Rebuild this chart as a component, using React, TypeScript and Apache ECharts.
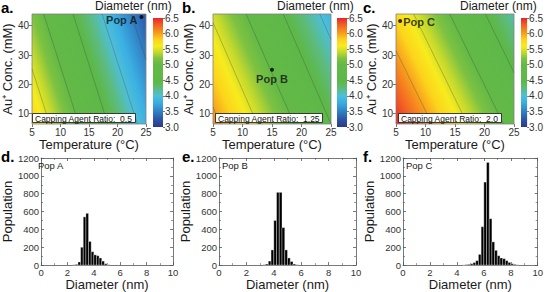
import React, { useEffect, useRef } from 'react';
import * as echarts from 'echarts';

const FONT = 'Liberation Sans, Arial, Helvetica, sans-serif';

// ---------- data ----------
const temperatureRange = [5, 25];
const concentrationRange = [6.5, 44];
const temperatureInterval = 5;
const concentrationTicks = [10, 20, 30, 40];
const diameterScale = [3.0, 6.5];
const diameterInterval = 0.5;

const cappingRatios = ['0.5', '1.25', '2.0'];
const panelLetters = ['a.', 'b.', 'c.', 'd.', 'e.', 'f.'];
const popNames = ['Pop A', 'Pop B', 'Pop C'];

// diameter (nm) read at corners: [5 °C & 44 mM, 25 °C & 44 mM, 5 °C & 6.5 mM]
const cornerDiamA = [5.2, 3.25, 5.8];
const cornerDiamB = [5.45, 3.85, 6.1];
const cornerDiamC = [5.75, 4.1, 6.5];

// contour lines [[T, conc], [T, conc]]
const contoursA = [
  [[5, 25.3], [8.1, 6.5]],
  [[7.05, 44], [13.2, 6.5]],
  [[12.2, 44], [18.3, 6.5]],
  [[17.3, 44], [23.5, 6.5]],
  [[22.4, 44], [25, 28.4]],
];
const contoursB = [
  [[5, 12.3], [6.25, 6.5]],
  [[5, 41.1], [12.5, 6.5]],
  [[10.6, 44], [18.75, 6.5]],
  [[16.9, 44], [25, 6.5]],
  [[23.1, 44], [25, 35.3]],
];
const contoursC = [
  [[5, 31.5], [11.1, 6.5]],
  [[8.0, 44], [17.1, 6.5]],
  [[14.1, 44], [23.2, 6.5]],
  [[20.15, 44], [25, 24]],
];

const popPointA = [24.2, 43];
const popPointB = [15, 25];
const popPointC = [5.7, 41.6];

const colorScale: [number, string][] = [
  [3.0, '#2b3990'],
  [3.25, '#2e56a5'],
  [3.5, '#3180c4'],
  [3.8, '#3bb0e3'],
  [4.0, '#4dbfd8'],
  [4.25, '#5dbb7a'],
  [4.45, '#5db849'],
  [5.0, '#63b946'],
  [5.2, '#7dc242'],
  [5.4, '#c3d92d'],
  [5.6, '#f7eb1e'],
  [5.8, '#fcd41c'],
  [6.05, '#f7941d'],
  [6.3, '#f15a24'],
  [6.5, '#e8232a'],
];

const histBinWidth = 0.2;
const histRangeX = [0, 10];
const histRangeY = [0, 1200];
const histCentersA = [2.5, 2.7, 2.9, 3.1, 3.3, 3.5, 3.7, 3.9, 4.1, 4.3, 4.5, 4.7, 4.9, 5.1];
const histCountsA = [3, 8, 35, 200, 540, 580, 265, 150, 115, 105, 80, 45, 15, 4];
const histCentersB = [3.3, 3.5, 3.7, 3.9, 4.1, 4.3, 4.5, 4.7, 4.9, 5.1, 5.3, 5.5, 5.7];
const histCountsB = [4, 12, 45, 170, 500, 815, 815, 420, 170, 80, 40, 12, 4];
const histCentersC = [4.5, 4.7, 4.9, 5.1, 5.3, 5.5, 5.7, 5.9, 6.1, 6.3, 6.5, 6.7, 6.9, 7.1, 7.3, 7.5, 7.7, 7.9, 8.1, 8.3, 8.5];
const histCountsC = [2, 5, 8, 15, 28, 50, 120, 430, 930, 1150, 520, 260, 165, 105, 80, 72, 50, 30, 15, 8, 3];

// ---------- layout ----------
const heatGrids = [
  { left: 29, top: 14, width: 117, height: 110 },
  { left: 213, top: 14, width: 118, height: 110 },
  { left: 396, top: 14, width: 118, height: 110 },
];
const cbarGrids = [
  { left: 153, top: 18, width: 10, height: 109 },
  { left: 337, top: 18, width: 10, height: 109 },
  { left: 521, top: 18, width: 10, height: 109 },
];
const histGrids = [
  { left: 35, top: 158, width: 138, height: 110 },
  { left: 219, top: 158, width: 137, height: 110 },
  { left: 403, top: 158, width: 136, height: 110 },
];
const letterPos = [[1, 0], [182, 0], [363, 0], [1, 149], [182, 149], [363, 149]];
const diamTitlePos = [[95, 0], [277, 0], [460, 0]];
const cappingPos = [[32, 113], [215, 113], [398, 113]];
const histPopPos = [[38, 160], [222, 160], [406, 160]];

const gradientStops = colorScale.map(([v, c]) => ({
  offset: (v - diameterScale[0]) / (diameterScale[1] - diameterScale[0]),
  color: c,
}));

const heatRender = (_params: any, api: any) => {
  const tl = api.coord([api.value(0), api.value(3)]);
  const br = api.coord([api.value(1), api.value(2)]);
  const dTL = api.value(4);
  const dTR = api.value(5);
  const dBL = api.value(6);
  const w = br[0] - tl[0];
  const h = br[1] - tl[1];
  const gx = (dTR - dTL) / w;
  const gy = (dBL - dTL) / h;
  const g2 = gx * gx + gy * gy;
  const lo = diameterScale[0];
  const hi = diameterScale[1];
  const x1 = tl[0] + (gx * (lo - dTL)) / g2;
  const y1 = tl[1] + (gy * (lo - dTL)) / g2;
  const x2 = tl[0] + (gx * (hi - dTL)) / g2;
  const y2 = tl[1] + (gy * (hi - dTL)) / g2;
  return {
    type: 'rect',
    shape: { x: tl[0], y: tl[1], width: w, height: h },
    style: {
      fill: new echarts.graphic.LinearGradient(x1, y1, x2, y2, gradientStops, true),
      stroke: '#808080',
      lineWidth: 0.8,
    },
  };
};

const cbarRender = (_params: any, api: any) => {
  const tl = api.coord([0, api.value(1)]);
  const br = api.coord([1, api.value(0)]);
  return {
    type: 'rect',
    shape: { x: tl[0], y: tl[1], width: br[0] - tl[0], height: br[1] - tl[1] },
    style: { fill: new echarts.graphic.LinearGradient(0, 1, 0, 0, gradientStops) },
  };
};

const histRender = (_params: any, api: any) => {
  const c = api.value(0);
  const n = api.value(1);
  const p0 = api.coord([c - histBinWidth / 2, n]);
  const p1 = api.coord([c + histBinWidth / 2, 0]);
  return {
    type: 'rect',
    shape: { x: p0[0], y: p0[1], width: p1[0] - p0[0], height: p1[1] - p0[1] },
    style: { fill: '#000', stroke: '#ffffff', lineWidth: 0.35 },
  };
};

function buildOption() {
  const corners = [cornerDiamA, cornerDiamB, cornerDiamC];
  const contours = [contoursA, contoursB, contoursC];
  const pops = [popPointA, popPointB, popPointC];
  const hists = [
    [histCentersA, histCountsA],
    [histCentersB, histCountsB],
    [histCentersC, histCountsC],
  ];
  const textColor = '#1a1a1a';
  const axisGray = '#555';

  const grid: any[] = [...heatGrids, ...cbarGrids, ...histGrids];
  const xAxis: any[] = [];
  const yAxis: any[] = [];
  const series: any[] = [];

  for (let i = 0; i < 3; i++) {
    xAxis.push({
      gridIndex: i, type: 'value', min: temperatureRange[0], max: temperatureRange[1], interval: temperatureInterval,
      axisLine: { show: false, onZero: false },
      axisTick: { show: true, length: 3, lineStyle: { color: axisGray, width: 0.8 } },
      axisLabel: { fontSize: 10, color: '#333', margin: 3, fontFamily: FONT },
      splitLine: { show: false },
      name: 'Temperature (°C)', nameLocation: 'middle', nameGap: 11,
      nameTextStyle: { fontSize: 13, color: textColor, fontFamily: FONT },
    });
    yAxis.push({
      gridIndex: i, type: 'value', min: concentrationRange[0], max: concentrationRange[1],
      axisLine: { show: false, onZero: false },
      axisTick: { show: true, length: 3, customValues: concentrationTicks, lineStyle: { color: axisGray, width: 0.8 } },
      axisLabel: { fontSize: 10, color: '#333', margin: 3, customValues: concentrationTicks, fontFamily: FONT },
      splitLine: { show: false },
      name: 'Au⁺ Conc. (mM)', nameLocation: 'middle', nameGap: 13,
      nameTextStyle: { fontSize: 13, color: textColor, fontFamily: FONT },
    });
  }
  for (let i = 0; i < 3; i++) {
    xAxis.push({ gridIndex: 3 + i, type: 'value', min: 0, max: 1, show: false });
    yAxis.push({
      gridIndex: 3 + i, type: 'value', position: 'right', min: diameterScale[0], max: diameterScale[1], interval: diameterInterval,
      axisLine: { show: false, onZero: false },
      axisTick: { show: true, length: 2, lineStyle: { color: axisGray, width: 0.8 } },
      axisLabel: { fontSize: 10, lineHeight: 10, color: '#333', margin: 2, formatter: (v: number) => v.toFixed(1), fontFamily: FONT },
      splitLine: { show: false },
    });
  }
  const histLine = { show: true, onZero: false, lineStyle: { color: axisGray, width: 0.8 } };
  const histTick = { show: true, inside: true, length: 3, lineStyle: { color: axisGray, width: 0.8 } };
  const histMinor = { show: true, splitNumber: 2, length: 2, lineStyle: { color: axisGray, width: 0.6 } };
  const plain = (v: number) => String(v);
  for (let i = 0; i < 3; i++) {
    xAxis.push({
      gridIndex: 6 + i, type: 'value', min: histRangeX[0], max: histRangeX[1], interval: 2,
      axisLine: histLine, axisTick: histTick, minorTick: histMinor,
      axisLabel: { fontSize: 9.5, color: '#333', margin: 2, formatter: plain, fontFamily: FONT },
      splitLine: { show: false },
      name: 'Diameter (nm)', nameLocation: 'middle', nameGap: 10,
      nameTextStyle: { fontSize: 13, color: textColor, fontFamily: FONT },
    });
    yAxis.push({
      gridIndex: 6 + i, type: 'value', min: histRangeY[0], max: histRangeY[1], interval: 200,
      axisLine: histLine, axisTick: histTick, minorTick: histMinor,
      axisLabel: { fontSize: 9.5, color: '#333', margin: 2, formatter: plain, fontFamily: FONT },
      splitLine: { show: false },
      name: 'Population', nameLocation: 'middle', nameGap: 21,
      nameTextStyle: { fontSize: 13, color: textColor, fontFamily: FONT },
    });
  }
  for (let i = 0; i < 3; i++) {
    xAxis.push({
      gridIndex: 6 + i, type: 'value', position: 'top', min: histRangeX[0], max: histRangeX[1], interval: 2,
      axisLine: histLine, axisTick: histTick, minorTick: histMinor,
      axisLabel: { show: false }, splitLine: { show: false },
    });
    yAxis.push({
      gridIndex: 6 + i, type: 'value', position: 'right', min: histRangeY[0], max: histRangeY[1], interval: 200,
      axisLine: histLine, axisTick: histTick, minorTick: histMinor,
      axisLabel: { show: false }, splitLine: { show: false },
    });
  }

  const popLabel = [
    { position: 'left', distance: 2, offset: [0, 3] },
    { position: 'bottom', distance: 2, offset: [0, 0] },
    { position: 'right', distance: 1, offset: [0, 1] },
  ];

  for (let i = 0; i < 3; i++) {
    series.push({
      type: 'custom', xAxisIndex: i, yAxisIndex: i, renderItem: heatRender,
      encode: { x: [0, 1], y: [2, 3] }, silent: true, z: 1,
      data: [[temperatureRange[0], temperatureRange[1], concentrationRange[0], concentrationRange[1], ...corners[i]]],
    });
    series.push({
      type: 'lines', coordinateSystem: 'cartesian2d', xAxisIndex: i, yAxisIndex: i, silent: true, z: 2,
      lineStyle: { color: '#3d4a3d', width: 0.6, opacity: 0.55 },
      data: contours[i].map((c) => ({ coords: c })),
    });
    series.push({
      type: 'scatter', xAxisIndex: i, yAxisIndex: i, symbolSize: 4, z: 3,
      itemStyle: { color: '#000' },
      label: {
        show: true, formatter: popNames[i], position: popLabel[i].position, distance: popLabel[i].distance,
        offset: popLabel[i].offset, fontSize: 11, fontWeight: 'bold', color: '#111', fontFamily: FONT,
      },
      data: [pops[i]],
    });
    series.push({
      type: 'custom', xAxisIndex: 3 + i, yAxisIndex: 3 + i, renderItem: cbarRender,
      encode: { y: [0, 1] }, silent: true,
      data: [[diameterScale[0], diameterScale[1]]],
    });
    series.push({
      type: 'custom', xAxisIndex: 6 + i, yAxisIndex: 6 + i, renderItem: histRender,
      encode: { x: 0, y: 1 }, silent: true,
      data: hists[i][0].map((c, k) => [c, hists[i][1][k]]),
    });
  }

  const title: any[] = [];
  panelLetters.forEach((t, i) => {
    title.push({ text: t, left: letterPos[i][0], top: letterPos[i][1], padding: 0,
      textStyle: { fontSize: 15, fontWeight: 'bold', color: '#000', fontFamily: FONT } });
  });
  for (let i = 0; i < 3; i++) {
    title.push({ text: 'Diameter (nm)', left: diamTitlePos[i][0], top: diamTitlePos[i][1], padding: 0,
      textStyle: { fontSize: 12, lineHeight: 12, fontWeight: 'normal', color: textColor, fontFamily: FONT } });
    title.push({ text: 'Capping Agent Ratio:  ' + cappingRatios[i], left: cappingPos[i][0], top: cappingPos[i][1],
      padding: [1, 3, 0, 3], borderColor: '#111', borderWidth: 0.8, backgroundColor: '#fff',
      textStyle: { fontSize: 8.5, fontWeight: 'normal', color: '#111', fontFamily: FONT } });
    title.push({ text: popNames[i], left: histPopPos[i][0], top: histPopPos[i][1], padding: 0,
      textStyle: { fontSize: 9.5, fontWeight: 'normal', color: textColor, fontFamily: FONT } });
  }

  return {
    animation: false,
    backgroundColor: '#ffffff',
    textStyle: { fontFamily: FONT },
    title, grid, xAxis, yAxis, series,
  };
}

export default function App() {
  const ref = useRef<HTMLDivElement>(null);
  useEffect(() => {
    document.body.style.margin = '0';
    if (!ref.current) return;
    const chart = echarts.init(ref.current, undefined, { renderer: 'svg' });
    chart.setOption(buildOption() as any);
    return () => chart.dispose();
  }, []);
  return (
    <div
      ref={ref}
      style={{ position: 'fixed', left: 0, top: 0, width: 546, height: 292, background: '#fff' }}
    />
  );
}
